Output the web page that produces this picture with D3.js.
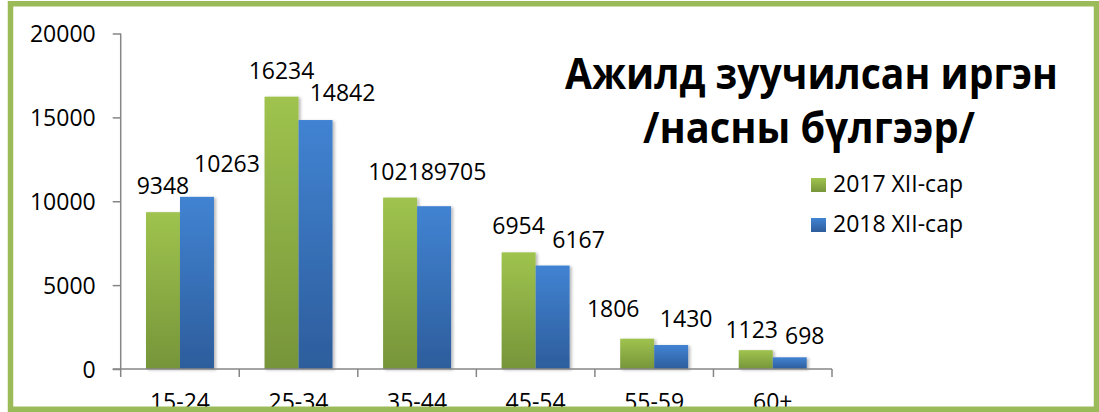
<!DOCTYPE html>
<html>
<head>
<meta charset="utf-8">
<script src="https://cdn.jsdelivr.net/npm/d3@7"></script>
<style>
  html, body { margin: 0; padding: 0; background: #fff; }
  svg { display: block; }
  text { font-family: "Open Sans", "Liberation Sans", sans-serif; fill: #000; }
</style>
</head>
<body>
<svg id="chart" width="1099" height="412"></svg>
<script>
// ---- data ----
const categories = ["15-24", "25-34", "35-44", "45-54", "55-59", "60+"];
const seriesNames = ["2017 XII-сар", "2018 XII-сар"];
const values2017 = [9348, 16234, 10218, 6954, 1806, 1123];
const values2018 = [10263, 14842, 9705, 6167, 1430, 698];
const yTicks = [0, 5000, 10000, 15000, 20000];
const titleLines = ["Ажилд зуучилсан иргэн", "/насны бүлгээр/"];

// ---- layout / style ----
const W = 1099, H = 412;
const plot = { left: 120.7, right: 832, top: 33.5, bottom: 369 };
const colors = [
  { top: "#9fc34e", bottom: "#76953a" },
  { top: "#4183d2", bottom: "#2d5d9c" }
];
// manual label nudges (dx, dy) per series / category, as in the source chart
const labelNudge = [
  [[0, 0], [0, 0], [1, 0], [0, 0], [-24, -4], [-4, 6]],
  [[30, -7], [27, -1], [26, -8], [26, 0], [15, 0], [15, 5]]
];

const svg = d3.select("#chart");
const defs = svg.append("defs");
colors.forEach((c, i) => {
  const g = defs.append("linearGradient").attr("id", "grad" + i)
    .attr("x1", 0).attr("y1", 0).attr("x2", 0).attr("y2", 1);
  g.append("stop").attr("offset", "0%").attr("stop-color", c.top);
  g.append("stop").attr("offset", "100%").attr("stop-color", c.bottom);
});
const f = defs.append("filter").attr("id", "shadow")
  .attr("x", "-20%").attr("y", "-20%").attr("width", "150%").attr("height", "140%");
f.append("feDropShadow").attr("dx", 2).attr("dy", 1).attr("stdDeviation", 1.6)
  .attr("flood-color", "#000").attr("flood-opacity", 0.28);

svg.append("rect").attr("width", W).attr("height", H).attr("fill", "#fff");

const x = d3.scaleBand().domain(categories)
  .range([plot.left, plot.right]).paddingInner(0.4266).paddingOuter(0.2133);
const xs = d3.scaleBand().domain(d3.range(seriesNames.length)).range([0, x.bandwidth()]);
const y = d3.scaleLinear().domain([0, 20000]).range([plot.bottom, plot.top]);

const seriesValues = [values2017, values2018];

// bars
seriesValues.forEach((vals, si) => {
  svg.append("g").selectAll("rect").data(vals).join("rect")
    .attr("x", (d, i) => x(categories[i]) + xs(si))
    .attr("y", d => y(d))
    .attr("width", xs.bandwidth())
    .attr("height", d => y(0) - y(d))
    .attr("fill", `url(#grad${si})`)
    .attr("filter", "url(#shadow)");
});

// y axis
const yAxis = svg.append("g").attr("transform", `translate(${plot.left},0)`)
  .call(d3.axisLeft(y).tickValues(yTicks).tickSize(8).tickPadding(17).tickFormat(d3.format("d")));
yAxis.select(".domain").attr("stroke", "#868686").attr("stroke-width", 1.5)
  .attr("d", `M0,${plot.top}V${plot.bottom}`);
yAxis.selectAll(".tick line").attr("stroke", "#868686").attr("stroke-width", 1.5);
yAxis.selectAll(".tick text").attr("font-size", 23).attr("fill", "#000")
  .attr("font-family", '"Open Sans", sans-serif').attr("dy", "0.36em");

// x axis
const step = x.step();
const offset = (step - x.bandwidth()) / 2;
const boundaries = categories.map(c => x(c) - offset).concat([x(categories[categories.length - 1]) + x.bandwidth() + offset]);
const xAxis = svg.append("g").attr("transform", `translate(0,${plot.bottom})`);
xAxis.append("path").attr("d", `M${plot.left - 8},0H${boundaries[boundaries.length - 1]}`)
  .attr("stroke", "#868686").attr("stroke-width", 1.5).attr("fill", "none");
xAxis.selectAll("line.bt").data(boundaries).join("line").attr("class", "bt")
  .attr("x1", d => d).attr("x2", d => d).attr("y1", 0).attr("y2", 8)
  .attr("stroke", "#868686").attr("stroke-width", 1.5);
xAxis.selectAll("text.cat").data(categories).join("text").attr("class", "cat")
  .attr("x", d => x(d) + x.bandwidth() / 2).attr("y", 40.5)
  .attr("text-anchor", "middle").attr("font-size", 23).text(d => d);

// data labels
seriesValues.forEach((vals, si) => {
  svg.append("g").selectAll("text").data(vals).join("text")
    .attr("x", (d, i) => x(categories[i]) + xs(si) + xs.bandwidth() / 2 + labelNudge[si][i][0])
    .attr("y", (d, i) => y(d) - 18 + labelNudge[si][i][1])
    .attr("text-anchor", "middle").attr("font-size", 23)
    .text(d => d);
});

// title
const title = svg.append("g");
title.append("text").attr("x", 811.5).attr("y", 89).attr("text-anchor", "middle")
  .attr("font-size", 43).attr("font-weight", "bold")
  .attr("textLength", 493).attr("lengthAdjust", "spacingAndGlyphs").text(titleLines[0]);
title.append("text").attr("x", 809).attr("y", 143).attr("text-anchor", "middle")
  .attr("font-size", 43).attr("font-weight", "bold")
  .attr("textLength", 332).attr("lengthAdjust", "spacingAndGlyphs").text(titleLines[1]);

// legend
const legend = svg.append("g").attr("transform", "translate(811,178)");
seriesNames.forEach((name, i) => {
  const g = legend.append("g").attr("transform", `translate(0,${i * 40})`);
  g.append("rect").attr("width", 15).attr("height", 14).attr("fill", `url(#grad${i})`);
  g.append("text").attr("x", 22).attr("y", 14).attr("font-size", 23).text(name);
});

// chart border
svg.append("rect").attr("x", 10.5).attr("y", 3.75).attr("width", 1086).attr("height", 405.5)
  .attr("fill", "none").attr("stroke", "#9bbb59").attr("stroke-width", 5.5);
</script>
</body>
</html>
